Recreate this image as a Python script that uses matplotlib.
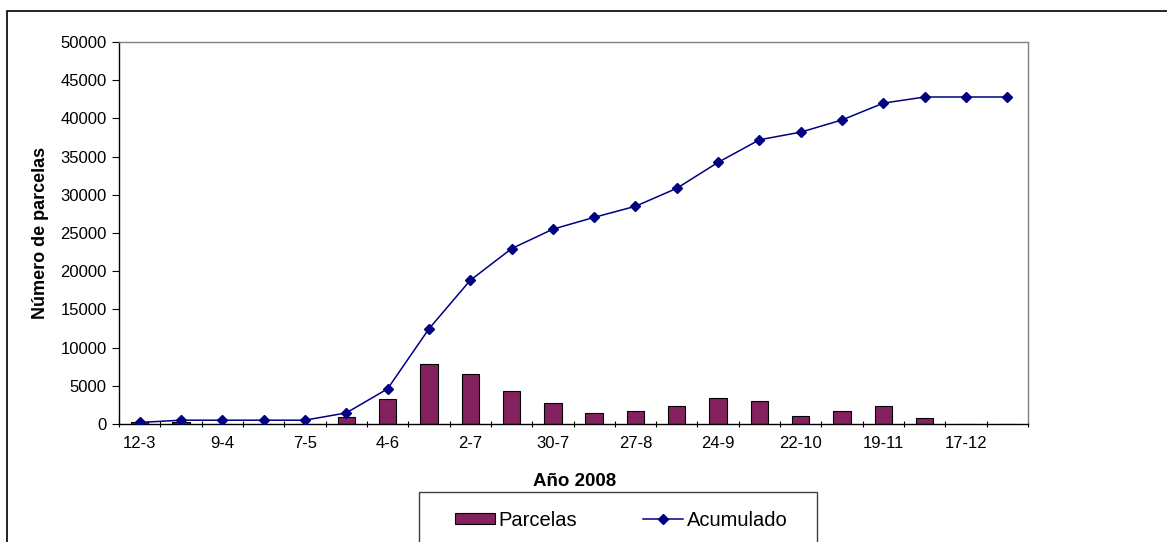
import numpy as np
import matplotlib
matplotlib.use("Agg")
import matplotlib.pyplot as plt
from matplotlib.patches import Rectangle

plt.rcParams['font.family'] = ['Liberation Sans', 'DejaVu Sans']

fechas = ['12-3', '26-3', '9-4', '23-4', '7-5', '21-5', '4-6', '18-6', '2-7', '16-7', '30-7',
          '13-8', '27-8', '10-9', '24-9', '8-10', '22-10', '5-11', '19-11', '3-12', '17-12', '31-12']
parcelas = [200, 300, 0, 0, 0, 900, 3300, 7800, 6500, 4300, 2700,
            1450, 1700, 2300, 3450, 3000, 1100, 1700, 2300, 850, 0, 0]
acumulado = [200, 500, 500, 500, 500, 1450, 4600, 12450, 18800, 22950, 25500,
             27050, 28500, 30850, 34250, 37200, 38200, 39800, 42000, 42800, 42800, 42800]

fig = plt.figure(figsize=(11.67, 5.42), dpi=100)
ax = fig.add_axes([119/1167, 1-424/542, (1028-119)/1167, (424-42)/542])

x = np.arange(len(fechas))
bars = ax.bar(x, parcelas, width=0.42, color='#84215f', edgecolor='black', linewidth=0.8,
              label='Parcelas', zorder=2)
line, = ax.plot(x, acumulado, color='#000080', linewidth=1.1, marker='D', markersize=5.5,
                label='Acumulado', zorder=3)

ax.set_xlim(-0.5, len(fechas) - 0.5)
ax.set_ylim(0, 50000)
ax.set_yticks(np.arange(0, 50001, 5000))
ax.set_xticks(np.arange(-0.5, len(fechas), 1))
ax.set_xticklabels([])
ax.set_xticks(x, minor=True)
ax.set_xticklabels([f if i % 2 == 0 else '' for i, f in enumerate(fechas)], minor=True)
ax.tick_params(axis='x', which='minor', length=0, pad=9, labelsize=12)
ax.tick_params(axis='x', which='major', length=5, direction='inout', width=0.8)
ax.tick_params(axis='y', length=5, width=0.8, labelsize=12, pad=4)

for s in ['top', 'right']:
    ax.spines[s].set_color('#808080')
    ax.spines[s].set_linewidth(1.0)
for s in ['left', 'bottom']:
    ax.spines[s].set_color('black')
    ax.spines[s].set_linewidth(1.0)

ax.set_ylabel('Número de parcelas', fontsize=13, fontweight='bold', labelpad=8)
fig.text(575/1167, 1-481/542, 'Año 2008', fontsize=13.5, fontweight='bold',
         ha='center', va='center')

# legend content, frame drawn separately
leg = fig.legend([bars, line], ['Parcelas', 'Acumulado'], loc='center',
                 bbox_to_anchor=(621/1167, 1-520/542),
                 ncol=2, fontsize=14.5, frameon=False,
                 handlelength=2.0, handleheight=0.5, handletextpad=0.15,
                 columnspacing=3.3, borderpad=0, borderaxespad=0)
fig.add_artist(Rectangle((419/1167, -0.1), (817-419)/1167, 1-492/542+0.1,
                         transform=fig.transFigure, fill=False,
                         edgecolor='#404040', linewidth=1.0))

# outer chart border
fig.add_artist(Rectangle((7/1167, -0.1), 1.2, 1 - 11/542 + 0.1, transform=fig.transFigure,
                         fill=False, edgecolor='black', linewidth=1.2))

fig.savefig('out.png', dpi=100)
